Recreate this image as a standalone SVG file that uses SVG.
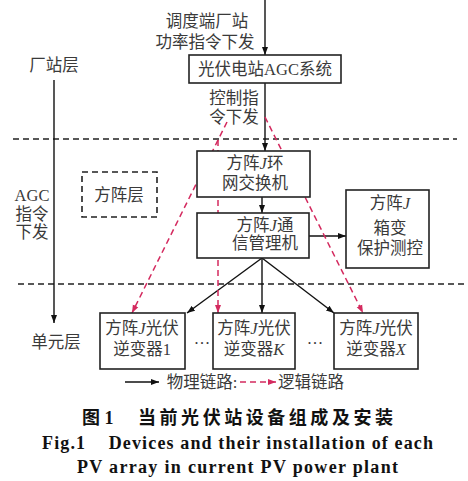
<svg xmlns="http://www.w3.org/2000/svg" width="468" height="481" viewBox="0 0 468 481">
<defs>
<marker id="ab" markerUnits="userSpaceOnUse" markerWidth="9" markerHeight="7" refX="8" refY="3.5" orient="auto"><path d="M0,0.5 L8,3.5 L0,6.5 z" fill="#111"/></marker>
<marker id="ar" markerUnits="userSpaceOnUse" markerWidth="9" markerHeight="7" refX="8" refY="3.5" orient="auto"><path d="M0,0.5 L8,3.5 L0,6.5 z" fill="#d42a5f"/></marker>
<style>
.t{font-family:"Liberation Serif","Noto Sans CJK SC",serif;font-size:16.5px;fill:#3a3a3a;text-anchor:middle}
.box{fill:#fff;stroke:#222;stroke-width:1.6}
.ln{stroke:#111;stroke-width:1.4;fill:none}
.rd{stroke:#d42a5f;stroke-width:1.5;fill:none;stroke-dasharray:6 4}
.dl{stroke:#222;stroke-width:1.6;stroke-dasharray:6 4}
.cap{font-family:"Liberation Serif","Noto Sans CJK SC",serif;font-size:18px;fill:#111;font-weight:bold}
</style>
</defs>
<rect width="468" height="481" fill="#fff"/>
<g id="layers">
<line class="dl" x1="13" y1="139" x2="457" y2="139"/>
<line class="dl" x1="18" y1="284" x2="465" y2="284"/>
<line class="ln" x1="54" y1="80" x2="54" y2="323" marker-end="url(#ab)"/>
<text class="t" x="54" y="71">厂站层</text>
<text class="t" x="32" y="201">AGC</text>
<text class="t" x="32" y="220">指令</text>
<text class="t" x="32" y="238">下发</text>
<text class="t" x="56" y="348">单元层</text>
</g>
<g id="connectors">
<line class="ln" x1="265" y1="0" x2="265" y2="55" marker-end="url(#ab)"/>
<line class="ln" x1="265" y1="83" x2="265" y2="151" marker-end="url(#ab)"/>
<line class="ln" x1="262" y1="197" x2="262" y2="213" marker-end="url(#ab)"/>
<line class="ln" x1="309" y1="236" x2="346" y2="236" marker-end="url(#ab)"/>
<line class="ln" x1="262" y1="258" x2="187" y2="313" marker-end="url(#ab)"/>
<line class="ln" x1="262" y1="258" x2="262" y2="313" marker-end="url(#ab)"/>
<line class="ln" x1="262" y1="258" x2="334" y2="313" marker-end="url(#ab)"/>
<line class="rd" x1="227" y1="122" x2="132" y2="313" marker-end="url(#ar)"/>
<line class="rd" x1="218" y1="140" x2="218" y2="313" marker-end="url(#ar)"/>
<line class="rd" x1="265" y1="117" x2="363" y2="313" marker-end="url(#ar)"/>
<text class="t" x="207" y="27">调度端厂站</text>
<text class="t" x="205" y="48">功率指令下发</text>
<text class="t" x="234" y="104">控制指</text>
<text class="t" x="234" y="123">令下发</text>
</g>
<g id="agc">
<rect class="box" x="189" y="55" width="152" height="28"/>
<text class="t" x="265" y="75">光伏电站AGC系统</text>
</g>
<g id="ring">
<rect class="box" x="197" y="151" width="113" height="46"/>
<text class="t" x="255" y="169">方阵<tspan font-style="italic">J</tspan>环</text>
<text class="t" x="255" y="189">网交换机</text>
</g>
<g id="comm">
<rect class="box" x="197" y="213" width="112" height="45"/>
<text class="t" x="265" y="231">方阵<tspan font-style="italic">J</tspan>通</text>
<text class="t" x="265" y="249">信管理机</text>
</g>
<g id="box-protect">
<rect class="box" x="346" y="190" width="83" height="78"/>
<text class="t" x="390" y="209">方阵<tspan font-style="italic">J</tspan></text>
<text class="t" x="390" y="234">箱变</text>
<text class="t" x="390" y="254">保护测控</text>
</g>
<g id="array-layer">
<rect x="82" y="172" width="75" height="45" fill="none" stroke="#222" stroke-width="1.6" stroke-dasharray="6 4"/>
<text class="t" x="119" y="201">方阵层</text>
</g>
<g id="inv1">
<rect class="box" x="100" y="313" width="85" height="56"/>
<text class="t" x="142" y="334">方阵<tspan font-style="italic">J</tspan>光伏</text>
<text class="t" x="142" y="355">逆变器1</text>
</g>
<g id="invK">
<rect class="box" x="213" y="313" width="82" height="56"/>
<text class="t" x="254" y="334">方阵<tspan font-style="italic">J</tspan>光伏</text>
<text class="t" x="254" y="355">逆变器<tspan font-style="italic">K</tspan></text>
</g>
<g id="invX">
<rect class="box" x="334" y="313" width="84" height="56"/>
<text class="t" x="376" y="334">方阵<tspan font-style="italic">J</tspan>光伏</text>
<text class="t" x="376" y="355">逆变器<tspan font-style="italic">X</tspan></text>
</g>
<text class="t" x="202" y="344">…</text>
<text class="t" x="315" y="344">…</text>
<g id="legend">
<line class="ln" x1="125" y1="382" x2="159" y2="382" marker-end="url(#ab)"/>
<text class="t" x="202" y="388">物理链路:</text>
<line class="rd" x1="240" y1="382" x2="276" y2="382" stroke-dasharray="5 3" marker-end="url(#ar)"/>
<text class="t" x="311" y="388">逻辑链路</text>
</g>
<g id="caption">
<text class="cap" x="82" y="424" font-weight="normal">图 1</text>
<text class="cap" x="138" y="424" textLength="255" lengthAdjust="spacing" font-weight="normal">当前光伏站设备组成及安装</text>
<text class="cap" x="42" y="449" textLength="391" lengthAdjust="spacing" xml:space="preserve">Fig.1    Devices and their installation of each</text>
<text class="cap" x="77" y="473" textLength="321" lengthAdjust="spacing">PV array in current PV power plant</text>
</g>
</svg>
